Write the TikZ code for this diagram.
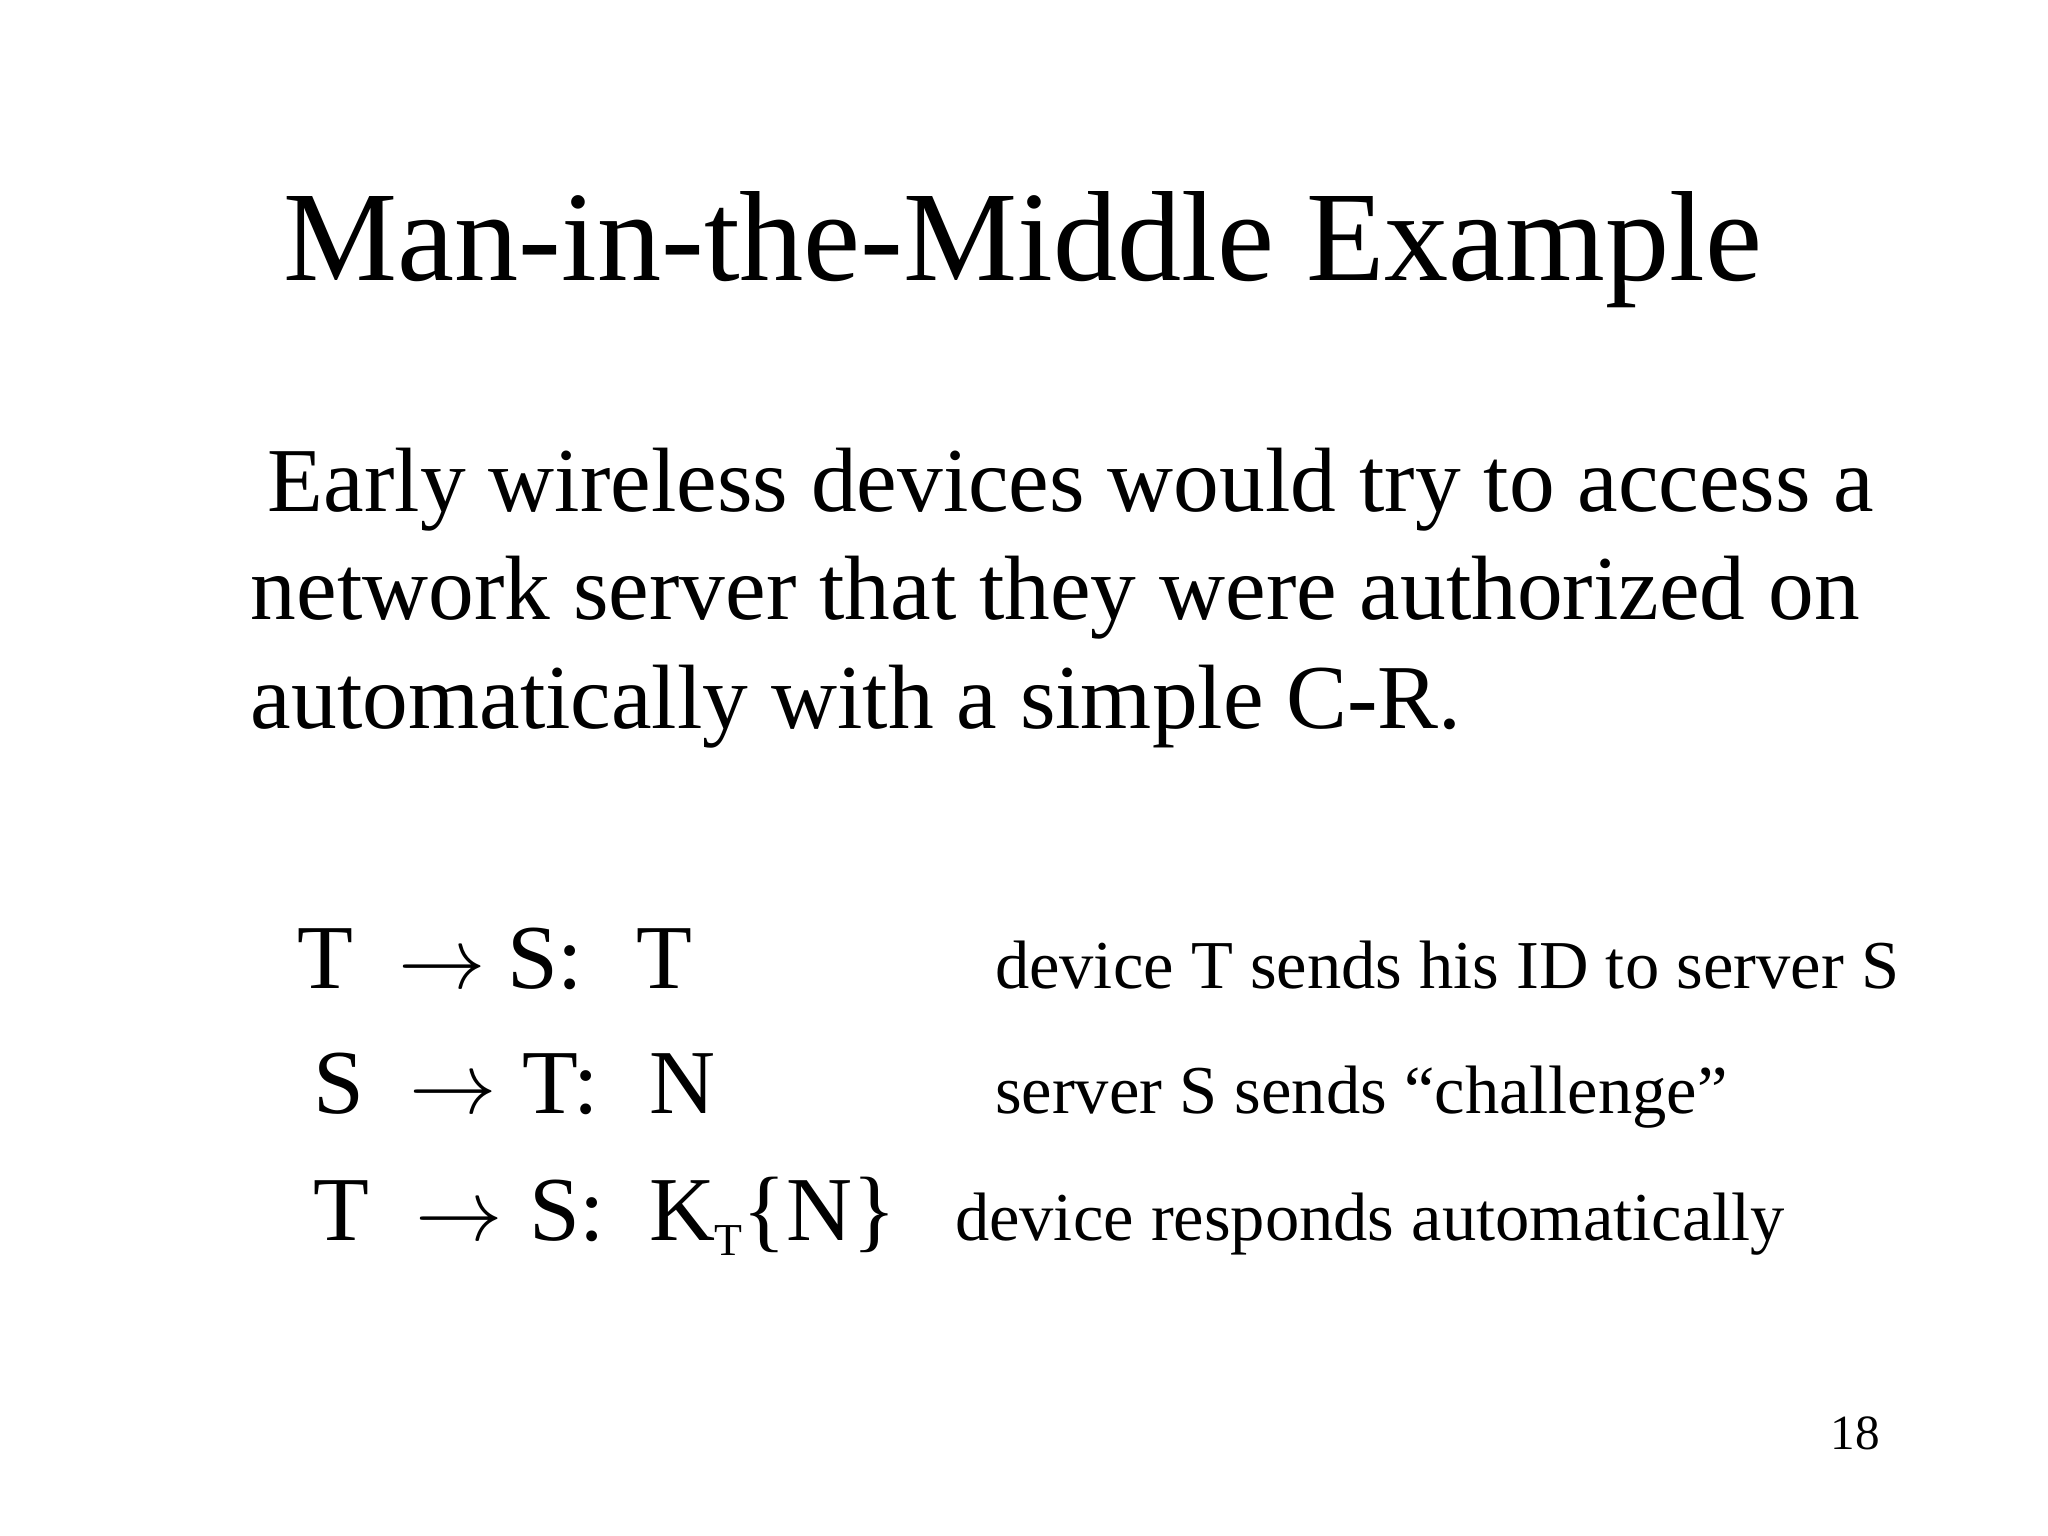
\documentclass[tikz,border=0pt]{standalone}
\usepackage{fontspec}
\setmainfont{Liberation Serif}
\begin{document}
\begin{tikzpicture}[
  every node/.style={inner sep=0pt,outer sep=0pt,anchor=base west},
  big/.style={font=\fontsize{26}{31}\selectfont},
  small/.style={font=\fontsize{19.5}{23}\selectfont}]
\useasboundingbox (0,0) rectangle (20.48,15.36);
\node[anchor=base,font=\fontsize{36.5}{40}\selectfont] (title) at (10.23,12.55) {Man-in-the-Middle Example};
\node[big] (b1) at (2.68,10.24) {Early wireless devices would try to access a};
\node[big] (b2) at (2.51,9.16) {network server that they were authorized on};
\node[big] (b3) at (2.51,8.07) {automatically with a simple C-R.};
% line 1
\node[big] (a1) at (2.98,5.47) {T};
\node[big] (a2) at (3.98,5.47) {$\rightarrow$};
\node[big] (a3) at (5.07,5.47) {S:};
\node[big] (a4) at (6.36,5.47) {T};
\node[small] (a5) at (9.95,5.47) {device T sends his ID to server S};
% line 2
\node[big] (c1) at (3.13,4.22) {S};
\node[big] (c2) at (4.09,4.22) {$\rightarrow$};
\node[big] (c3) at (5.22,4.22) {T:};
\node[big] (c4) at (6.49,4.22) {N};
\node[small] (c5) at (9.95,4.22) {server S sends “challenge”};
% line 3
\node[big] (d1) at (3.13,2.95) {T};
\node[big] (d2) at (4.15,2.95) {$\rightarrow$};
\node[big] (d3) at (5.29,2.95) {S:};
\node[big] (d4) at (6.49,2.95) {K\raisebox{-0.35ex}{\fontsize{13}{13}\selectfont T}\{N\}};
\node[small] (d5) at (9.55,2.95) {device responds automatically};
\node[anchor=base,font=\fontsize{14}{16}\selectfont] (pg) at (18.55,0.86) {18};
\end{tikzpicture}
\end{document}
